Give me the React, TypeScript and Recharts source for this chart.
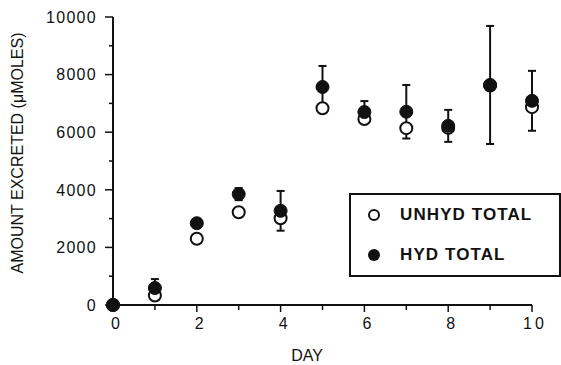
import { ScatterChart, Scatter, XAxis, YAxis, ErrorBar, Legend } from "recharts"

const days = [0, 1, 2, 3, 4, 5, 6, 7, 8, 9, 10]
const unhydTotal = [0, 330, 2300, 3220, 3010, 6830, 6460, 6140, 6150, 7620, 6870]
const hydTotal = [0, 590, 2840, 3850, 3270, 7570, 6700, 6710, 6220, 7640, 7090]
const hydError = [0, 310, 150, 210, 690, 730, 380, 930, 555, 2050, 1040]
const dayTicks = [0, 1, 2, 3, 4, 5, 6, 7, 8, 9, 10]
const amountTicks = [0, 1000, 2000, 3000, 4000, 5000, 6000, 7000, 8000, 9000, 10000]

const FONT = "'Liberation Sans', Arial, Helvetica, sans-serif"
const INK = "#111"

const unhydData = days.map((d, i) => ({ day: d, amount: unhydTotal[i] }))
const hydData = days.map((d, i) => ({ day: d, amount: hydTotal[i], err: hydError[i] }))

const X_TICK = 7
const X_MARGIN = 6
const Y_TICK = 8
const Y_MARGIN = 8

function DayTick(props: any) {
  const { x, y, payload } = props
  const major = payload.value % 2 === 0
  const axisY = y - X_TICK - X_MARGIN
  return (
    <g>
      <line x1={x} x2={x} y1={axisY} y2={axisY + (major ? 7 : 5)} stroke={INK} strokeWidth={1.5} />
      {major && (
        <text x={x + 3} y={y} dy="0.71em" textAnchor="middle" fontSize={16} letterSpacing={payload.value === 10 ? 3 : 1} fill={INK} fontFamily={FONT}>
          {payload.value}
        </text>
      )}
    </g>
  )
}

function AmountTick(props: any) {
  const { x, y, payload } = props
  const major = payload.value % 2000 === 0
  const axisX = x + Y_TICK + Y_MARGIN
  return (
    <g>
      <line x1={axisX} x2={axisX - (major ? 8 : 4)} y1={y} y2={y} stroke={INK} strokeWidth={1.5} />
      {major && (
        <text x={x} y={y} dy="0.36em" textAnchor="end" fontSize={16} letterSpacing={1.3} fill={INK} fontFamily={FONT}>
          {payload.value}
        </text>
      )}
    </g>
  )
}

const OpenDot = (p: any) => <circle cx={p.cx} cy={p.cy} r={6} fill="#fff" stroke={INK} strokeWidth={2} />
const FilledDot = (p: any) => <circle cx={p.cx} cy={p.cy} r={6.5} fill={INK} stroke={INK} strokeWidth={1} />

function LegendBox() {
  const row = { display: "flex", alignItems: "center", height: 40 }
  const label = { marginLeft: 19, fontWeight: 700, fontSize: 17, letterSpacing: 1.1, color: INK }
  return (
    <div style={{ fontFamily: FONT, paddingLeft: 16 }}>
      <div style={row}>
        <svg width={14} height={14}>
          <circle cx={7} cy={7} r={5} fill="#fff" stroke={INK} strokeWidth={2} />
        </svg>
        <span style={label}>UNHYD TOTAL</span>
      </div>
      <div style={row}>
        <svg width={14} height={14}>
          <circle cx={7} cy={7} r={6} fill={INK} />
        </svg>
        <span style={label}>HYD TOTAL</span>
      </div>
    </div>
  )
}

export default function App() {
  return (
    <div style={{ position: "absolute", left: 0, top: 0, background: "#fff" }}>
      <ScatterChart width={561} height={365} margin={{ top: 17, right: 29, bottom: 0, left: 0 }}>
        <XAxis
          type="number"
          dataKey="day"
          domain={[0, 10]}
          ticks={dayTicks}
          interval={0}
          height={60}
          tickSize={X_TICK}
          tickMargin={X_MARGIN}
          tickLine={false}
          tick={<DayTick />}
          axisLine={{ stroke: INK, strokeWidth: 2 }}
          label={{
            content: () => (
              <text x={307} y={361} textAnchor="middle" fontSize={16} fill={INK} fontFamily={FONT}>
                DAY
              </text>
            ),
          }}
        />
        <YAxis
          type="number"
          dataKey="amount"
          domain={[0, 10000]}
          ticks={amountTicks}
          interval={0}
          width={113}
          tickSize={Y_TICK}
          tickMargin={Y_MARGIN}
          tickLine={false}
          tick={<AmountTick />}
          axisLine={{ stroke: INK, strokeWidth: 2 }}
          label={{
            content: () => (
              <text x={23} y={153} transform="rotate(-90 23 153)" textAnchor="middle" fontSize={16} fill={INK} fontFamily={FONT}>
                AMOUNT EXCRETED (μMOLES)
              </text>
            ),
          }}
        />
        <Legend
          layout="vertical"
          align="center"
          verticalAlign="middle"
          content={<LegendBox />}
          wrapperStyle={{
            left: 349,
            top: 193,
            width: 212,
            height: 84,
            border: `2px solid ${INK}`,
            boxSizing: "border-box",
            background: "#fff",
          }}
        />
        <Scatter name="UNHYD TOTAL" data={unhydData} shape={OpenDot} isAnimationActive={false} />
        <Scatter name="HYD TOTAL" data={hydData} shape={FilledDot} isAnimationActive={false}>
          <ErrorBar dataKey="err" direction="y" width={4} stroke={INK} strokeWidth={2} />
        </Scatter>
      </ScatterChart>
    </div>
  )
}
